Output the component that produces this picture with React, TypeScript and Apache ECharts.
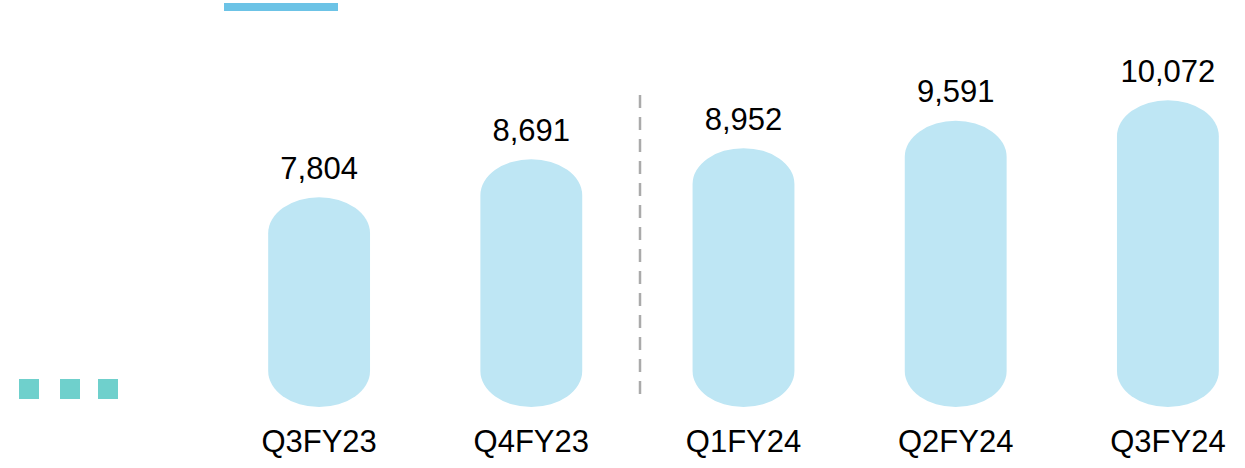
import React, { useEffect, useRef } from "react";
import * as echarts from "echarts";

const categories = ["Q3FY23", "Q4FY23", "Q1FY24", "Q2FY24", "Q3FY24"];
const values = [7804, 8691, 8952, 9591, 10072];
const Y_MIN = 2900;
const Y_MAX = 12000;

const BAR_COLOR = "#BEE6F4";
const FONT = "'Liberation Sans', Arial, sans-serif";
const FONT_SIZE = 31;

export default function App() {
  const ref = useRef<HTMLDivElement>(null);
  useEffect(() => {
    if (!ref.current) return;
    const chart = echarts.init(ref.current, undefined, { renderer: "svg" });
    const option: any = {
      animation: false,
      backgroundColor: "#ffffff",
      grid: { left: 213, width: 1061, top: 17.8, bottom: 61 },
      xAxis: {
        type: "category",
        data: categories,
        axisLine: { show: false },
        axisTick: { show: false },
        axisLabel: { fontSize: FONT_SIZE, color: "#000", fontFamily: FONT, margin: 19 },
      },
      yAxis: {
        type: "value",
        min: Y_MIN,
        max: Y_MAX,
        show: false,
        splitLine: { show: false },
      },
      series: [
        {
          type: "custom",
          data: values.map((v, i) => [i, v]),
          encode: { x: 0, y: 1 },
          renderItem: (params: any, api: any) => {
            const idx = api.value(0);
            const v = api.value(1);
            const top = api.coord([idx, v]);
            const base = api.coord([idx, Y_MIN]);
            const w = api.size([1, 0])[0] * 0.48;
            const x0 = top[0] - w / 2;
            const x1 = top[0] + w / 2;
            const rx = w / 2;
            const ry = 36;
            const yt = top[1];
            const yb = base[1];
            const d = `M${x0},${yt + ry} A${rx},${ry} 0 0 1 ${x1},${yt + ry} L${x1},${yb - ry} A${rx},${ry} 0 0 1 ${x0},${yb - ry} Z`;
            return {
              type: "group",
              children: [
                { type: "path", shape: { pathData: d }, style: { fill: BAR_COLOR } },
                {
                  type: "text",
                  style: {
                    text: Number(v).toLocaleString("en-US"),
                    x: top[0],
                    y: yt - 29,
                    textAlign: "center",
                    textVerticalAlign: "middle",
                    fill: "#000",
                    font: `${FONT_SIZE}px ${FONT}`,
                  },
                },
              ],
            };
          },
        },
      ],
      graphic: [
        { type: "rect", shape: { x: 224, y: 3, width: 114, height: 8 }, style: { fill: "#6CC3E6" } },
        { type: "rect", shape: { x: 19, y: 379, width: 20, height: 20 }, style: { fill: "#6FD0CC" } },
        { type: "rect", shape: { x: 60, y: 379, width: 20, height: 20 }, style: { fill: "#6FD0CC" } },
        { type: "rect", shape: { x: 98, y: 379, width: 20, height: 20 }, style: { fill: "#6FD0CC" } },
        {
          type: "line",
          shape: { x1: 640, y1: 95, x2: 640, y2: 398 },
          style: { stroke: "#AAAAAA", lineWidth: 2.5, lineDash: [13, 9] },
        },
      ],
    };
    chart.setOption(option);
    return () => chart.dispose();
  }, []);
  return (
    <div
      ref={ref}
      style={{ position: "fixed", left: 0, top: 0, width: 1280, height: 468, background: "#fff" }}
    />
  );
}
